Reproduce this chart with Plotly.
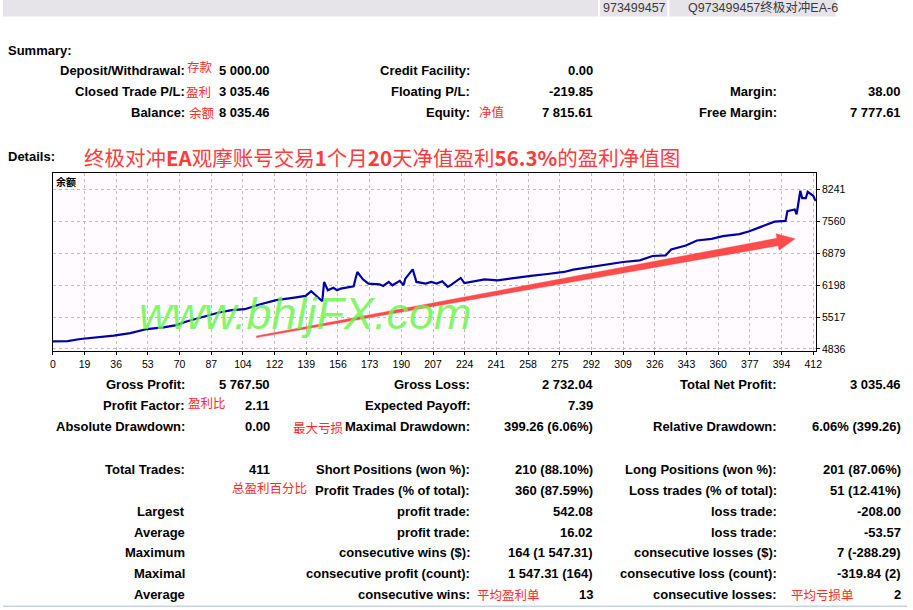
import math
import plotly.graph_objects as go

W, H = 913, 610

# ---------------- data ----------------
trade_no = [0, 8, 15, 24, 33, 42, 51, 60, 67, 72, 81, 90, 97, 104, 112, 121, 130, 137, 140, 143,
            146, 147, 149, 152, 154, 156, 160, 163, 164, 165, 168, 171, 177, 179, 182, 184, 188, 190, 191, 193,
            195, 197, 202, 205, 208, 211, 214, 216, 221, 223, 228, 234, 241, 250, 259, 268, 277, 282, 295, 309,
            318, 325, 332, 335, 343, 349, 357, 363, 372, 377, 384, 391, 397, 398, 402, 403, 405, 406, 408, 409,
            412, 413.4]
equity = [5000, 5005, 5049, 5085, 5121, 5176, 5262, 5298, 5347, 5419, 5525, 5617, 5666, 5687, 5787, 5879, 5930, 5972, 6070, 5957,
          5857, 6270, 6092, 6143, 6092, 6128, 6164, 6177, 6340, 6483, 6326, 6234, 6219, 6185, 6270, 6198, 6292, 6198, 6340, 6447,
          6538, 6270, 6234, 6270, 6234, 6283, 6164, 6213, 6355, 6245, 6283, 6326, 6304, 6355, 6398, 6440, 6483, 6532, 6611, 6696,
          6730, 6824, 6836, 6964, 7049, 7156, 7192, 7249, 7292, 7347, 7453, 7560, 7575, 7781, 7819, 7713, 8220, 8064, 8064, 8198,
          8113, 8000]

x_tick_labels = ["0", "19", "36", "53", "70", "87", "104", "122", "139", "156", "173", "190", "207",
                 "224", "241", "258", "275", "292", "309", "326", "343", "360", "377", "394", "412"]
y_tick_values = [4836, 5517, 6198, 6879, 7560, 8241]

header_account = "973499457"
header_name = "Q973499457终极对冲EA-6"
chart_label = "余额"
title_text = "终极对冲<b>EA</b>观摩账号交易<b>1</b>个月<b>20</b>天净值盈利<b>56.3%</b>的盈利净值图"
watermark = "www.bhljFX.com"

summary_left_labels = ["Deposit/Withdrawal:", "Closed Trade P/L:", "Balance:"]
summary_left_values = ["5 000.00", "3 035.46", "8 035.46"]
summary_mid_labels = ["Credit Facility:", "Floating P/L:", "Equity:"]
summary_mid_values = ["0.00", "-219.85", "7 815.61"]
summary_right_labels = ["", "Margin:", "Free Margin:"]
summary_right_values = ["", "38.00", "7 777.61"]

detail_left_labels = ["Gross Profit:", "Profit Factor:", "Absolute Drawdown:", "Total Trades:", "",
                      "Largest", "Average", "Maximum", "Maximal", "Average"]
detail_left_values = ["5 767.50", "2.11", "0.00", "411", "", "", "", "", "", ""]
detail_mid_labels = ["Gross Loss:", "Expected Payoff:", "Maximal Drawdown:", "Short Positions (won %):",
                     "Profit Trades (% of total):", "profit trade:", "profit trade:", "consecutive wins ($):",
                     "consecutive profit (count):", "consecutive wins:"]
detail_mid_values = ["2 732.04", "7.39", "399.26 (6.06%)", "210 (88.10%)", "360 (87.59%)", "542.08", "16.02",
                     "164 (1 547.31)", "1 547.31 (164)", "13"]
detail_right_labels = ["Total Net Profit:", "", "Relative Drawdown:", "Long Positions (won %):",
                       "Loss trades (% of total):", "loss trade:", "loss trade:", "consecutive losses ($):",
                       "consecutive loss (count):", "consecutive losses:"]
detail_right_values = ["3 035.46", "", "6.06% (399.26)", "201 (87.06%)", "51 (12.41%)", "-208.00", "-53.57",
                       "7 (-288.29)", "-319.84 (2)", "2"]

red_notes = ["存款", "盈利", "余额", "净值", "盈利比", "最大亏损", "总盈利百分比", "平均盈利单", "平均亏损单"]

# ---------------- layout helpers (pixel -> paper) ----------------
def px(x):
    return x / W

def py(y):
    return 1 - y / H

annotations = []
shapes = []

TXT_FONT = "Liberation Sans, Arial, sans-serif"
CJK_FONT = "Noto Sans CJK SC, Liberation Sans, sans-serif"

def txt(x, y, s, anchor="right", size=13, color="#000000", family=TXT_FONT, bold=True):
    if not s:
        return
    annotations.append(dict(
        x=px(x), y=py(y), xref="paper", yref="paper", text=("<b>%s</b>" % s) if bold else s,
        showarrow=False, xanchor=anchor, yanchor="middle", borderpad=0,
        font=dict(family=family, size=size, color=color)))

# header bar
shapes.append(dict(type="rect", xref="paper", yref="paper", x0=px(0), x1=px(841), y0=py(0), y1=py(16.7),
                   fillcolor="#e7e4e9", line=dict(width=0), layer="below"))
for sx in (601, 671):
    shapes.append(dict(type="rect", xref="paper", yref="paper", x0=px(sx), x1=px(sx + 2), y0=py(0), y1=py(16.7),
                       fillcolor="#ffffff", line=dict(width=0), layer="below"))
txt(604.5, 8, header_account, anchor="left", size=12.5, color="#3a3a3a", bold=False,
    family="Liberation Sans, Noto Sans CJK SC, sans-serif")
txt(691, 8, header_name, anchor="left", size=12.5, color="#3a3a3a", bold=False,
    family="Liberation Sans, Noto Sans CJK SC, sans-serif")

# section headings
txt(4, 50.5, "Summary:", anchor="left")
txt(4, 157, "Details:", anchor="left")

# summary block
sum_rows = [71, 92, 113]
for i, yy in enumerate(sum_rows):
    txt(184.5, yy, summary_left_labels[i])
    txt(271, yy, summary_left_values[i])
    txt(473, yy, summary_mid_labels[i])
    txt(597, yy, summary_mid_values[i])
    txt(783, yy, summary_right_labels[i])
    txt(908, yy, summary_right_values[i])

# details block
det_rows = [386, 407.3, 428.7, 471.7, 492.7, 513.7, 534.7, 555.7, 576.7, 597.7]
for i, yy in enumerate(det_rows):
    txt(184.5, yy, detail_left_labels[i])
    txt(271, yy, detail_left_values[i])
    txt(473, yy, detail_mid_labels[i])
    txt(597, yy, detail_mid_values[i])
    txt(783, yy, detail_right_labels[i])
    txt(908, yy, detail_right_values[i])

# red notes
note_pos = [(185, 67), (184, 91.5), (187, 113.5), (480, 112), (186, 404.5), (291.5, 429.5),
            (230, 490), (478, 597), (794.5, 597)]
for s, (xx, yy) in zip(red_notes, note_pos):
    txt(xx, yy, s, anchor="left", size=12.5, color="#ff2a2a", family=CJK_FONT, bold=False)

# red title
txt(81, 158, title_text, anchor="left", size=20.5, color="#ff3b3b", family=CJK_FONT, bold=False)

# label inside chart
txt(53, 182.5, chart_label, anchor="left", size=10, color="#000000", family=CJK_FONT, bold=True)

# watermark
annotations.append(dict(x=px(136), y=py(315), xref="paper", yref="paper", text="<i>%s</i>" % watermark,
                        showarrow=False, xanchor="left", yanchor="middle", borderpad=0,
                        font=dict(family="Liberation Sans, Arial, sans-serif", size=45,
                                  color="rgba(105,245,75,0.82)")))

# red arrow (decoration)
tail = (256.0, 338.5)
tip = (800.0, 240.0)
dx, dy = tip[0] - tail[0], tip[1] - tail[1]
L = math.hypot(dx, dy)
ux, uy = dx / L, dy / L
nx, ny = -uy, ux
head_len, w0, w1, hw = 18.0, 0.8, 3.8, 8.5
bx, by = tail[0] + ux * (L - head_len), tail[1] + uy * (L - head_len)
pts = [(tail[0] + nx * w0, tail[1] + ny * w0), (bx + nx * w1, by + ny * w1), (bx + nx * hw, by + ny * hw),
       tip, (bx - nx * hw, by - ny * hw), (bx - nx * w1, by - ny * w1), (tail[0] - nx * w0, tail[1] - ny * w0)]
path = "M " + " L ".join("%.5f,%.5f" % (px(a), py(b)) for a, b in pts) + " Z"
shapes.append(dict(type="path", xref="paper", yref="paper", path=path, fillcolor="rgba(255,60,60,0.92)",
                   line=dict(width=0.6, color="rgba(255,60,60,0.6)"), layer="above"))

# bottom rule
shapes.append(dict(type="line", xref="paper", yref="paper", x0=0, x1=1, y0=py(609.3), y1=py(609.3),
                   line=dict(color="#c5d3e6", width=1.5)))

# ---------------- figure ----------------
x_max = 413.45
y_min, y_max = 4787, 8590
x_tickvals = [i * 412 / (len(x_tick_labels) - 1) for i in range(len(x_tick_labels))]

fig = go.Figure()
fig.add_trace(go.Scatter(x=trade_no, y=equity, mode="lines", line=dict(color="#0000a8", width=2.2),
                         hoverinfo="skip", showlegend=False))

axis_font = dict(family="Liberation Sans Narrow, Liberation Sans, Arial, sans-serif", size=10.5, color="#000000")
fig.update_layout(
    width=W, height=H, margin=dict(l=0, r=0, t=0, b=0),
    paper_bgcolor="#ffffff", plot_bgcolor="#fffbff",
    showlegend=False,
    annotations=annotations, shapes=shapes,
    xaxis=dict(domain=[px(50.3), px(821)], range=[0, x_max], tickvals=x_tickvals, ticktext=x_tick_labels,
               showgrid=True, gridcolor="#bdbdbd", griddash="3px,3px", gridwidth=1,
               showline=True, linecolor="#000000", linewidth=1, mirror=True,
               ticks="outside", ticklen=3, tickcolor="#000000", tickfont=axis_font, zeroline=False,
               fixedrange=True),
    yaxis=dict(domain=[py(353), py(174.3)], range=[y_min, y_max], tickvals=y_tick_values,
               ticktext=[str(v) for v in y_tick_values], side="right",
               showgrid=True, gridcolor="#bdbdbd", griddash="3px,3px", gridwidth=1,
               showline=True, linecolor="#000000", linewidth=1, mirror=True,
               ticks="outside", ticklen=3, tickcolor="#000000", tickfont=axis_font, zeroline=False,
               fixedrange=True),
)

fig.write_html("out.html", config={"displayModeBar": False},
               post_script="document.body.style.margin='0';document.body.style.overflow='hidden';")
